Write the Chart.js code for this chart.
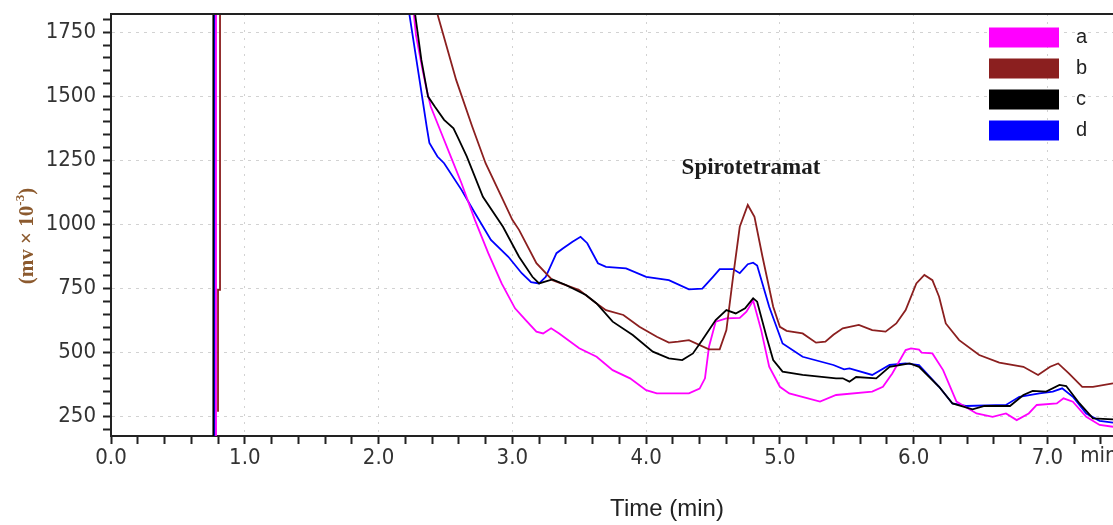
<!DOCTYPE html>
<html>
<head>
<meta charset="utf-8">
<title>Chromatogram</title>
<script src="https://cdn.jsdelivr.net/npm/chart.js@4.4.1/dist/chart.umd.min.js"></script>
<style>
  html, body { margin: 0; padding: 0; background: #fff; }
  #wrap { width: 1113px; height: 525px; }
</style>
</head>
<body>
<div id="wrap"><canvas id="chrom" width="1113" height="525"></canvas></div>
<script>
// series names and colours (legend order)
const seriesNames = ['a', 'b', 'c', 'd'];
const seriesColors = ['#ff00ff', '#8b1f1f', '#000000', '#0000ff'];

// retention time (min) / detector signal for each trace
const timeA = [0.785, 0.785, 2.20, 2.28, 2.33, 2.36, 2.39, 2.47, 2.54, 2.62, 2.72, 2.82, 2.92, 3.02, 3.10, 3.18, 3.23, 3.29, 3.35, 3.50, 3.63, 3.75, 3.88, 4.00, 4.08, 4.32, 4.40, 4.44, 4.47, 4.52, 4.60, 4.70, 4.75, 4.80, 4.86, 4.92, 5.00, 5.07, 5.30, 5.42, 5.69, 5.77, 5.84, 5.94, 5.98, 6.04, 6.06, 6.14, 6.22, 6.32, 6.47, 6.59, 6.69, 6.77, 6.86, 6.92, 7.07, 7.12, 7.19, 7.29, 7.39, 7.49];
const signalA = [0, 9000, 2150, 1738, 1600, 1525, 1460, 1356, 1265, 1161, 1018, 888, 770, 673, 627, 582, 575, 595, 575, 517, 484, 432, 400, 354, 341, 341, 360, 400, 523, 621, 634, 636, 660, 703, 588, 445, 367, 341, 309, 335, 348, 367, 419, 510, 517, 512, 500, 497, 432, 309, 263, 250, 263, 237, 263, 296, 302, 322, 309, 250, 218, 211];

const timeB = [0.80, 0.80, 0.815, 0.815, 2.30, 2.44, 2.58, 2.70, 2.80, 2.93, 3.00, 3.05, 3.18, 3.30, 3.50, 3.63, 3.70, 3.83, 3.95, 4.08, 4.17, 4.24, 4.32, 4.47, 4.55, 4.60, 4.65, 4.70, 4.76, 4.81, 4.87, 4.95, 5.00, 5.05, 5.17, 5.27, 5.34, 5.40, 5.47, 5.59, 5.69, 5.79, 5.87, 5.94, 6.02, 6.08, 6.14, 6.19, 6.24, 6.34, 6.49, 6.64, 6.82, 6.93, 7.02, 7.08, 7.16, 7.26, 7.34, 7.49];
const signalB = [270, 745, 745, 9000, 2100, 1821, 1564, 1382, 1239, 1096, 1018, 979, 849, 783, 744, 692, 666, 647, 601, 562, 539, 543, 549, 513, 513, 588, 796, 991, 1076, 1030, 874, 679, 601, 585, 575, 539, 543, 570, 595, 608, 588, 582, 614, 666, 770, 803, 783, 718, 614, 549, 491, 461, 445, 413, 445, 458, 419, 367, 367, 380];

const timeC = [0.765, 0.765, 2.20, 2.32, 2.37, 2.42, 2.49, 2.56, 2.59, 2.66, 2.78, 2.93, 3.05, 3.15, 3.20, 3.30, 3.40, 3.55, 3.63, 3.75, 3.90, 4.05, 4.17, 4.27, 4.35, 4.42, 4.52, 4.60, 4.67, 4.74, 4.80, 4.83, 4.90, 4.95, 5.02, 5.17, 5.42, 5.47, 5.52, 5.57, 5.72, 5.82, 5.97, 6.04, 6.19, 6.29, 6.44, 6.53, 6.72, 6.82, 6.89, 6.99, 7.09, 7.14, 7.24, 7.34, 7.49];
const signalC = [0, 9000, 2100, 1642, 1499, 1460, 1408, 1375, 1343, 1265, 1108, 991, 874, 796, 770, 786, 764, 725, 692, 621, 569, 504, 478, 471, 497, 549, 627, 666, 653, 673, 712, 699, 562, 471, 426, 413, 400, 400, 387, 405, 400, 445, 458, 445, 367, 302, 279, 292, 292, 335, 351, 348, 374, 370, 302, 244, 240];

const timeD = [0.775, 0.775, 2.15, 2.23, 2.31, 2.36, 2.38, 2.44, 2.49, 2.62, 2.72, 2.84, 2.97, 3.07, 3.14, 3.20, 3.25, 3.33, 3.38, 3.45, 3.51, 3.56, 3.64, 3.70, 3.85, 4.00, 4.17, 4.32, 4.42, 4.50, 4.55, 4.65, 4.70, 4.76, 4.80, 4.83, 4.92, 5.02, 5.17, 5.40, 5.48, 5.52, 5.69, 5.82, 5.94, 6.04, 6.19, 6.29, 6.39, 6.69, 6.79, 6.94, 7.04, 7.11, 7.19, 7.29, 7.39, 7.49];
const signalD = [0, 9000, 2130, 1821, 1551, 1381, 1318, 1265, 1239, 1135, 1045, 940, 874, 810, 775, 770, 796, 888, 907, 933, 952, 927, 849, 835, 829, 796, 783, 747, 750, 796, 826, 826, 810, 845, 851, 840, 679, 536, 484, 452, 435, 439, 413, 452, 458, 452, 367, 302, 292, 296, 328, 341, 348, 361, 328, 263, 234, 227];

// axis ticks
const xMajorTicks = [0, 1, 2, 3, 4, 5, 6, 7];
const yMajorTicks = [250, 500, 750, 1000, 1250, 1500, 1750];
const peakName = 'Spirotetramat';

const xMinorStep = 0.2;
const yMinorStep = 50;

const xTickValues = [];
for (let i = 0; i <= 37; i++) xTickValues.push(Math.round(i * xMinorStep * 10) / 10);
const yTickValues = [];
for (let v = 200; v <= 1800; v += yMinorStep) yTickValues.push(v);

const isXMajor = v => xMajorTicks.includes(Math.round(v * 10) / 10);
const isYMajor = v => yMajorTicks.includes(v);

const pts = (t, v) => t.map((x, i) => ({ x: x, y: v[i] }));

const tickFont = { family: '"Liberation Sans Narrow", "DejaVu Sans Condensed", "Liberation Sans", sans-serif', size: 22 };
const gridGrey = '#d2d2d2';

// frame, legend, titles and peak label
const extras = {
  id: 'extras',
  afterDraw(chart) {
    const ctx = chart.ctx;
    const area = chart.chartArea;
    ctx.save();

    // top frame line
    ctx.strokeStyle = '#222';
    ctx.lineWidth = 2;
    ctx.beginPath();
    ctx.moveTo(area.left, area.top);
    ctx.lineTo(chart.width, area.top);
    ctx.stroke();

    // legend
    ctx.font = '20px "Liberation Sans", Arial, sans-serif';
    ctx.textBaseline = 'middle';
    ctx.textAlign = 'left';
    seriesNames.forEach((name, i) => {
      const cy = 37.5 + i * 31;
      ctx.fillStyle = seriesColors[i];
      ctx.fillRect(989, cy - 10, 70, 20);
      ctx.fillStyle = '#222';
      ctx.fillText(name, 1076, cy);
    });

    // peak label
    ctx.font = 'bold 23px "Liberation Serif", "Times New Roman", serif';
    ctx.textAlign = 'center';
    ctx.textBaseline = 'alphabetic';
    ctx.fillStyle = '#1c1c1c';
    ctx.fillText(peakName, 751, 174);

    // x unit after the last tick label
    ctx.font = tickFont.size + 'px ' + tickFont.family;
    ctx.textBaseline = 'middle';
    ctx.fillStyle = '#333';
    ctx.fillText('min', 1099, 456);

    // x title
    ctx.font = '24px "Liberation Sans", Arial, sans-serif';
    ctx.fillStyle = '#222';
    ctx.fillText('Time (min)', 667, 509);

    // y title, rotated, with superscript exponent
    ctx.translate(28, 236);
    ctx.rotate(-Math.PI / 2);
    ctx.fillStyle = '#8c5a2e';
    const big = 'bold 21px "Liberation Serif", "Times New Roman", serif';
    const small = 'bold 13px "Liberation Serif", "Times New Roman", serif';
    const parts = [['(mv \u00d7 10', big, 0], ['-3', small, -7], [')', big, 0]];
    let total = 0;
    parts.forEach(p => { ctx.font = p[1]; total += ctx.measureText(p[0]).width; });
    let x = -total / 2;
    ctx.textAlign = 'left';
    parts.forEach(p => {
      ctx.font = p[1];
      ctx.fillText(p[0], x, p[2]);
      x += ctx.measureText(p[0]).width;
    });

    ctx.restore();
  }
};

new Chart(document.getElementById('chrom').getContext('2d'), {
  type: 'line',
  data: {
    datasets: [
      { label: seriesNames[0], data: pts(timeA, signalA), borderColor: seriesColors[0], order: 3 },
      { label: seriesNames[1], data: pts(timeB, signalB), borderColor: seriesColors[1], order: 2 },
      { label: seriesNames[2], data: pts(timeC, signalC), borderColor: seriesColors[2], order: 1 },
      { label: seriesNames[3], data: pts(timeD, signalD), borderColor: seriesColors[3], order: 4 }
    ]
  },
  options: {
    responsive: false,
    animation: false,
    devicePixelRatio: 1,
    layout: { padding: { top: 14, left: 0, right: 0, bottom: 0 } },
    elements: {
      line: { borderWidth: 1.8, tension: 0, fill: false },
      point: { radius: 0 }
    },
    plugins: {
      legend: { display: false },
      tooltip: { enabled: false }
    },
    scales: {
      x: {
        type: 'linear',
        min: 0,
        max: 7.49,
        afterBuildTicks: s => { s.ticks = xTickValues.map(v => ({ value: v })); },
        afterFit: s => { s.height = 89; s.paddingLeft = 0; s.paddingRight = 0; },
        ticks: {
          autoSkip: false,
          maxRotation: 0,
          padding: 1,
          color: '#333',
          font: tickFont,
          callback: v => isXMajor(v) ? v.toFixed(1) : ''
        },
        grid: {
          color: c => (c.tick && isXMajor(c.tick.value) && c.tick.value > 0) ? gridGrey : 'rgba(0,0,0,0)',
          lineWidth: 1,
          tickColor: '#222',
          tickWidth: 2,
          tickLength: 8
        },
        border: { display: true, color: '#222', width: 2, dash: [2, 6] }
      },
      y: {
        min: 175,
        max: 1821,
        afterBuildTicks: s => { s.ticks = yTickValues.map(v => ({ value: v })); },
        afterFit: s => { s.width = 111; s.paddingTop = 0; s.paddingBottom = 0; },
        ticks: {
          autoSkip: false,
          padding: 7,
          color: '#333',
          font: tickFont,
          callback: v => isYMajor(v) ? String(v) : ''
        },
        grid: {
          color: c => (c.tick && isYMajor(c.tick.value)) ? gridGrey : 'rgba(0,0,0,0)',
          lineWidth: 1,
          tickColor: '#222',
          tickWidth: 2,
          tickLength: 8
        },
        border: { display: true, color: '#222', width: 2, dash: [3, 5] }
      }
    }
  },
  plugins: [extras]
});
</script>
</body>
</html>
